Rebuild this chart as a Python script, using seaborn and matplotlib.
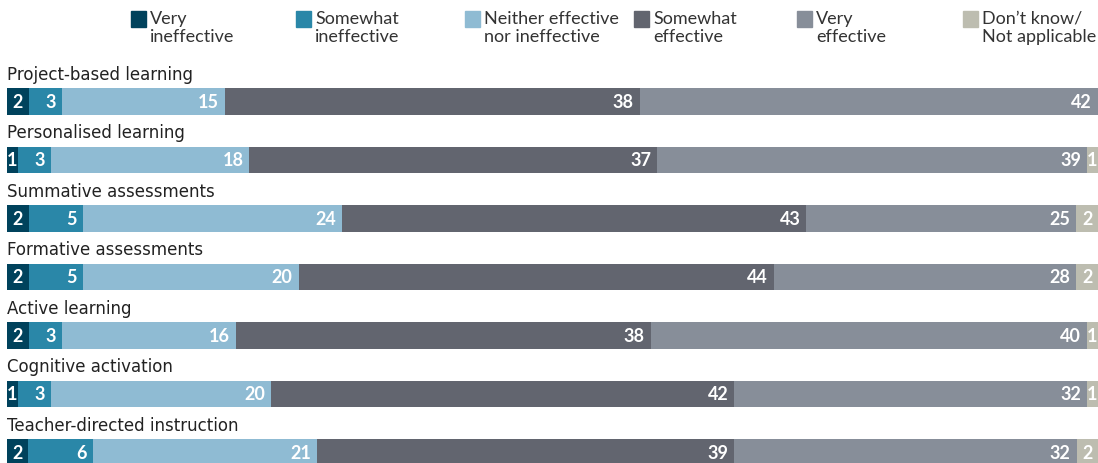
import numpy as np
import pandas as pd
import matplotlib.pyplot as plt
import seaborn as sns
from matplotlib.patches import Rectangle

# Datos
categorias = ["Project-based learning", "Personalised learning", "Summative assessments",
              "Formative assessments", "Active learning", "Cognitive activation",
              "Teacher-directed instruction"]
respuestas = ["Very\nineffective", "Somewhat\nineffective", "Neither effective\nnor ineffective",
              "Somewhat\neffective", "Very\neffective", "Don\u2019t know/\nNot applicable"]
muy_inefectivo = [2, 1, 2, 2, 2, 1, 2]
algo_inefectivo = [3, 3, 5, 5, 3, 3, 6]
neutral = [15, 18, 24, 20, 16, 20, 21]
algo_efectivo = [38, 37, 43, 44, 38, 42, 39]
muy_efectivo = [42, 39, 25, 28, 40, 32, 32]
no_sabe = [0, 1, 2, 2, 1, 1, 2]
colores = ["#00425c", "#2a87a8", "#8fbbd3", "#62656f", "#878e99", "#bdbdb0"]

series = [muy_inefectivo, algo_inefectivo, neutral, algo_efectivo, muy_efectivo, no_sabe]
df = pd.DataFrame(np.array(series).T, columns=respuestas)
df.insert(0, "categoria", categorias)

# Normalizo cada fila a 100 (los valores redondeados no siempre suman 100)
valores = df[respuestas].to_numpy(dtype=float)
valores_norm = valores / valores.sum(axis=1, keepdims=True) * 100
acumulado = np.cumsum(valores_norm, axis=1)

sns.set_theme(style="white")
plt.rcParams['font.family'] = ['Lato', 'DejaVu Sans']

fig = plt.figure(figsize=(10.98, 4.64), dpi=100)
ax = fig.add_axes([7 / 1098, 0, 1091 / 1098, 404 / 464])

# Barras apiladas: dibujo los acumulados de atras hacia adelante
for j in range(len(respuestas) - 1, -1, -1):
    plot_df = pd.DataFrame({"categoria": categorias, "valor": acumulado[:, j]})
    sns.barplot(data=plot_df, x="valor", y="categoria", orient="h", color=colores[j],
                width=0.46, saturation=1, ax=ax, linewidth=0)

ax.set_xlim(0, 100)
ax.set_ylim(6.18, -0.726)
ax.axis('off')

# Etiquetas de valores
for i in range(len(categorias)):
    for j in range(len(respuestas)):
        v = valores[i, j]
        if v <= 0:
            continue
        fin = acumulado[i, j]
        ancho = valores_norm[i, j]
        if ancho < 2.5:
            # segmentos angostos: etiqueta centrada
            ax.text(fin - ancho / 2, i, f"{int(v)}", ha='center', va='center', color='white',
                    fontsize=13, fontweight='bold')
        else:
            ax.text(fin - 0.55, i, f"{int(v)}", ha='right', va='center', color='white',
                    fontsize=13, fontweight='bold')
    ax.text(0, i - 0.47, categorias[i], ha='left', va='center', color='#222222',
            fontsize=12, family=['DejaVu Sans'], clip_on=False)

# Leyenda
leyenda_x = [131, 296, 465, 634, 797, 963]
for x, etiqueta, c in zip(leyenda_x, respuestas, colores):
    fig.patches.append(Rectangle((x / 1098, 1 - 28 / 464), 15 / 1098, 16 / 464,
                                 transform=fig.transFigure, color=c))
    fig.text((x + 19) / 1098, 1 - 11 / 464, etiqueta, ha='left', va='top',
             fontsize=13, color='#333333', linespacing=1.15)

plt.savefig("out.png", dpi=100)
